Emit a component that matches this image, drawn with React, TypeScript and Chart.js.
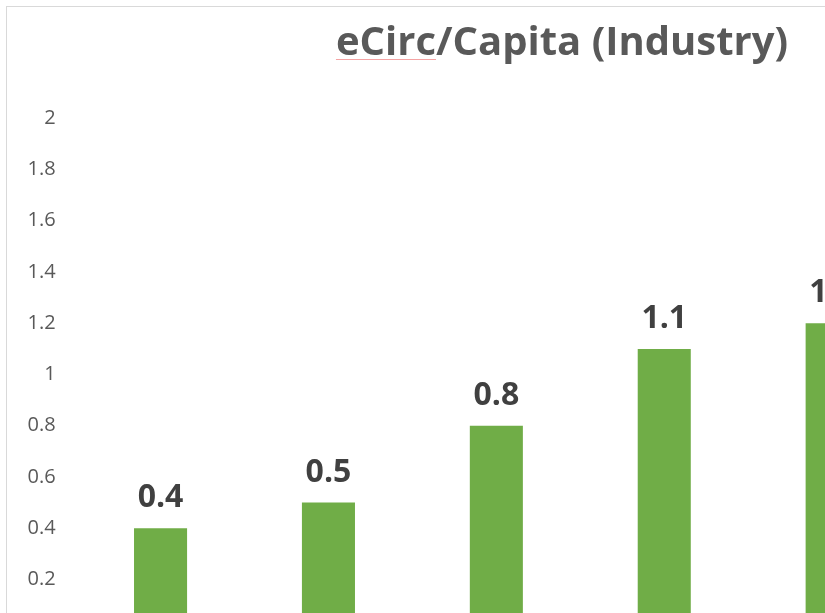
import React, { useEffect, useRef } from "react";
import { Chart, registerables } from "chart.js";

Chart.register(...registerables);

const categories = ["1", "2", "3", "4", "5", "6"];
const values: (number | null)[] = [0.4, 0.5, 0.8, 1.1, 1.2, null];
const yTicks = [0.2, 0.4, 0.6, 0.8, 1, 1.2, 1.4, 1.6, 1.8, 2];
const titleText = "eCirc/Capita (Industry)";

const W = 1100;
const H = 680;
const TITLE_SIZE = 40;

const labelPlugin = {
  id: "valueLabels",
  beforeDraw(chart: any) {
    const tb = chart.titleBlock;
    if (tb) tb.left = 33;
  },
  afterDatasetsDraw(chart: any) {
    const ctx = chart.ctx;
    const meta = chart.getDatasetMeta(0);
    ctx.save();
    ctx.font = "bold 32px 'Open Sans'";
    ctx.fillStyle = "#404040";
    ctx.textAlign = "center";
    ctx.textBaseline = "alphabetic";
    meta.data.forEach((el: any, i: number) => {
      const v = values[i];
      if (v == null) return;
      ctx.fillText(String(v), el.x, el.y - 21);
    });
    ctx.restore();
  },
  afterDraw(chart: any) {
    const tb = chart.titleBlock;
    if (!tb) return;
    const ctx = chart.ctx;
    ctx.save();
    ctx.font = `bold ${TITLE_SIZE}px 'Open Sans'`;
    const total = ctx.measureText(titleText).width;
    const first = ctx.measureText("eCirc").width;
    const cx = (tb.left + tb.right) / 2;
    const x0 = cx - total / 2;
    const pad = tb.options.padding;
    const midY = tb.top + (pad.top ?? 0) + (TITLE_SIZE * 1.2) / 2;
    const y = Math.round(midY + 15) + 0.5;
    ctx.strokeStyle = "#f4a3a3";
    ctx.lineWidth = 1;
    ctx.beginPath();
    ctx.moveTo(x0, y);
    ctx.lineTo(x0 + first, y);
    ctx.stroke();
    ctx.restore();
  },
};

export default function App() {
  const ref = useRef<HTMLCanvasElement | null>(null);
  useEffect(() => {
    if (!ref.current) return;
    const chart = new Chart(ref.current, {
      type: "bar",
      data: {
        labels: categories,
        datasets: [
          {
            data: values,
            backgroundColor: "#70AD47",
            borderWidth: 0,
            categoryPercentage: 1,
            barPercentage: 0.316,
          },
        ],
      },
      options: {
        responsive: false,
        animation: false,
        devicePixelRatio: 1,
        layout: { padding: { left: 18.6, right: 23, top: 0, bottom: 56.3 } },
        plugins: {
          legend: { display: false },
          tooltip: { enabled: false },
          title: {
            display: true,
            text: titleText,
            color: "#595959",
            font: { family: "'Open Sans'", size: TITLE_SIZE, weight: "bold", lineHeight: 1.2 },
            padding: { top: 13, bottom: 50.3 },
          },
        },
        scales: {
          x: { display: false },
          y: {
            min: 0,
            max: 2,
            afterFit: (s: any) => {
              s.width = 51;
            },
            afterBuildTicks: (s: any) => {
              s.ticks = yTicks.map((v) => ({ value: v }));
            },
            grid: { display: false, drawTicks: false },
            border: { display: false },
            ticks: {
              padding: 21,
              color: "#595959",
              font: { family: "'Open Sans'", size: 20 },
              callback: (v: any) => String(v),
            },
          },
        },
      },
      plugins: [labelPlugin],
    });
    return () => chart.destroy();
  }, []);
  return (
    <div
      style={{
        position: "fixed",
        left: 0,
        top: 0,
        width: 825,
        height: 613,
        overflow: "hidden",
        background: "#ffffff",
      }}
    >
      <div
        style={{
          position: "absolute",
          left: 6,
          top: 6,
          width: W + 2,
          height: H + 2,
          border: "1px solid #d9d9d9",
          boxSizing: "border-box",
          background: "#ffffff",
        }}
      >
        <canvas ref={ref} width={W} height={H} style={{ display: "block", width: W, height: H }} />
      </div>
    </div>
  );
}
